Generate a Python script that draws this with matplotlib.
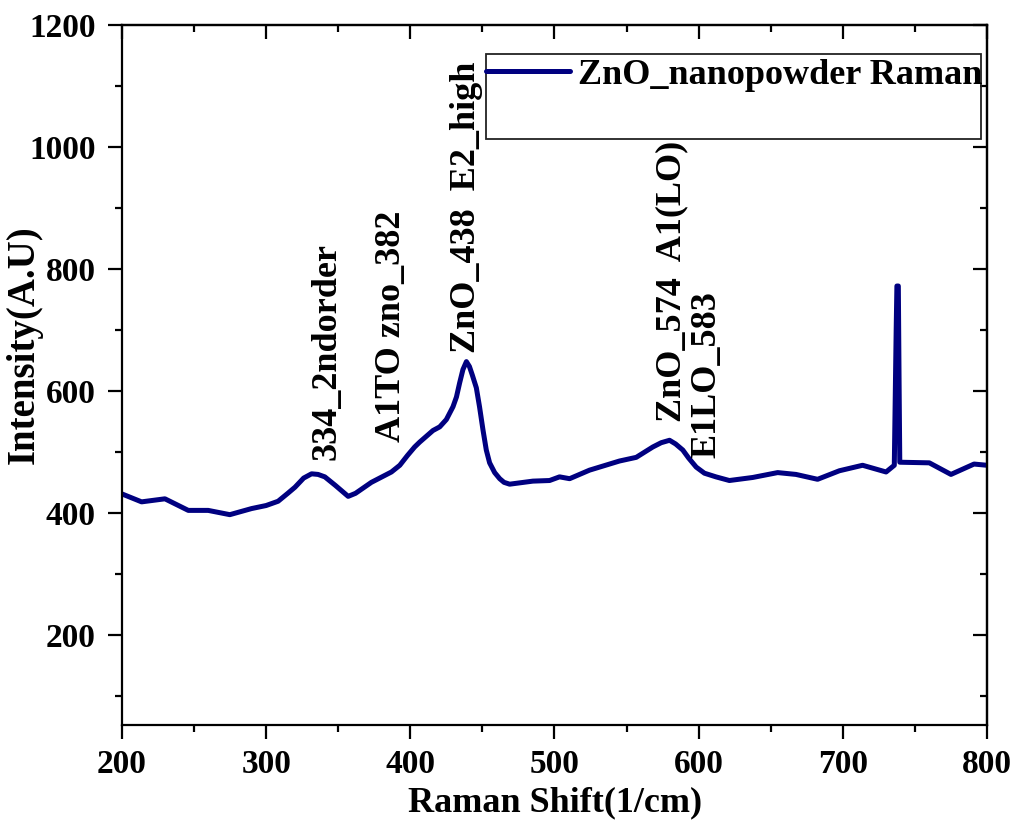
import matplotlib
matplotlib.use("Agg")
import matplotlib.pyplot as plt
from matplotlib.patches import Rectangle
from matplotlib.ticker import MultipleLocator

plt.rcParams['font.family'] = ['Liberation Serif', 'DejaVu Serif']
plt.rcParams['font.weight'] = 'bold'
plt.rcParams['axes.labelweight'] = 'bold'

# Raman spectrum
raman_shift = [200, 213.6, 229.8, 246, 259.8, 274.8, 289.9, 300, 308.3, 315,
               320, 326, 331.5, 336, 340.7, 348, 356.9, 362, 373, 386.9,
               392.7, 398, 403, 406.5, 415.7, 420.4, 425, 429.6, 432, 434.2,
               436.5, 438.9, 441, 443, 445.8, 448, 450.4, 452.7, 455, 458.5,
               462, 465, 468.9, 485, 496.6, 503.5, 510.5, 524.3, 545.1, 556.7,
               568.2, 574, 579.8, 584, 589, 593, 598.3, 604, 612, 621.3,
               637.5, 654.8, 667.5, 682.5, 697.6, 713.7, 730, 735.7, 737, 737.5,
               738.5, 739, 739.5, 760, 775, 791, 800]
intensity = [431, 418, 423, 404, 404, 397, 407, 412, 419, 432,
             442, 457, 464, 463, 459, 445, 427, 432, 450, 467,
             478, 494, 508, 516, 535, 541, 553, 574, 590, 613,
             635, 648, 640, 626, 605, 574, 536, 503, 482, 466,
             456, 450, 447, 452, 453, 459, 456, 470, 485, 491,
             508, 515, 519, 513, 503, 490, 475, 465, 459, 453,
             458, 466, 463, 455, 469, 478, 467, 478, 700, 772,
             772, 620, 483, 482, 463, 480, 478]

series_label = "ZnO_nanopowder Raman"
peak_labels = ["334_2ndorder", "A1TO zno_382", "ZnO_438  E2_high",
               "ZnO_574  A1(LO)", "E1LO_583"]
peak_label_x = [342.4, 387.1, 439.1, 581.2, 605.4]
peak_label_y = [487, 516, 662, 549, 490]

fig = plt.figure(figsize=(10.19, 8.21), dpi=100)
ax = fig.add_axes([0.1197, 0.1169, 0.8489, 0.8526])

line, = ax.plot(raman_shift, intensity, color='#000080', lw=3.6,
                solid_joinstyle='round', solid_capstyle='round',
                label=series_label)

ax.set_xlim(200, 800)
ax.set_ylim(52, 1200)
ax.xaxis.set_major_locator(MultipleLocator(100))
ax.xaxis.set_minor_locator(MultipleLocator(50))
ax.yaxis.set_major_locator(MultipleLocator(200))
ax.yaxis.set_minor_locator(MultipleLocator(100))

for s in ax.spines.values():
    s.set_linewidth(1.6)
ax.tick_params(which='major', direction='out', length=10, width=1.6,
               labelsize=24, pad=7)
ax.tick_params(which='minor', direction='out', length=5, width=1.6)
ax.tick_params(axis='y', which='major', pad=9)

secx = ax.secondary_xaxis('top')
secx.xaxis.set_major_locator(MultipleLocator(100))
secx.xaxis.set_minor_locator(MultipleLocator(50))
secx.tick_params(which='major', direction='in', length=10, width=1.6, labeltop=False)
secx.tick_params(which='minor', direction='in', length=5, width=1.6)
secx.spines['top'].set_linewidth(1.6)

secy = ax.secondary_yaxis('right')
secy.yaxis.set_major_locator(MultipleLocator(200))
secy.yaxis.set_minor_locator(MultipleLocator(100))
secy.tick_params(which='major', direction='in', length=10, width=1.6, labelright=False)
secy.tick_params(which='minor', direction='in', length=5, width=1.6)
secy.spines['right'].set_linewidth(1.6)

ax.set_xlabel("Raman Shift(1/cm)", fontsize=26, fontweight='bold')
ax.set_ylabel("Intensity(A.U)", fontsize=28, fontweight='bold')
ax.xaxis.set_label_coords(0.501, -0.088)
ax.yaxis.set_label_coords(-0.092, 0.543)

for txt, px, py in zip(peak_labels, peak_label_x, peak_label_y):
    ax.text(px, py, txt, rotation=90, ha='center', va='bottom',
            fontsize=26, fontweight='bold', color='black')

# legend with a taller frame like the reference
leg = ax.legend(handles=[line], loc='center left', bbox_to_anchor=(0.4203, 0.928),
                frameon=False, fontsize=26, handlelength=2.35, handletextpad=0.2,
                borderpad=0, borderaxespad=0)
ax.add_patch(Rectangle((0.4203, 0.8367), 0.993 - 0.4203, 0.9585 - 0.8367,
                       transform=ax.transAxes, fill=False, edgecolor='#222222',
                       lw=1.3, clip_on=False, zorder=5))

fig.savefig("out.png", dpi=100)
